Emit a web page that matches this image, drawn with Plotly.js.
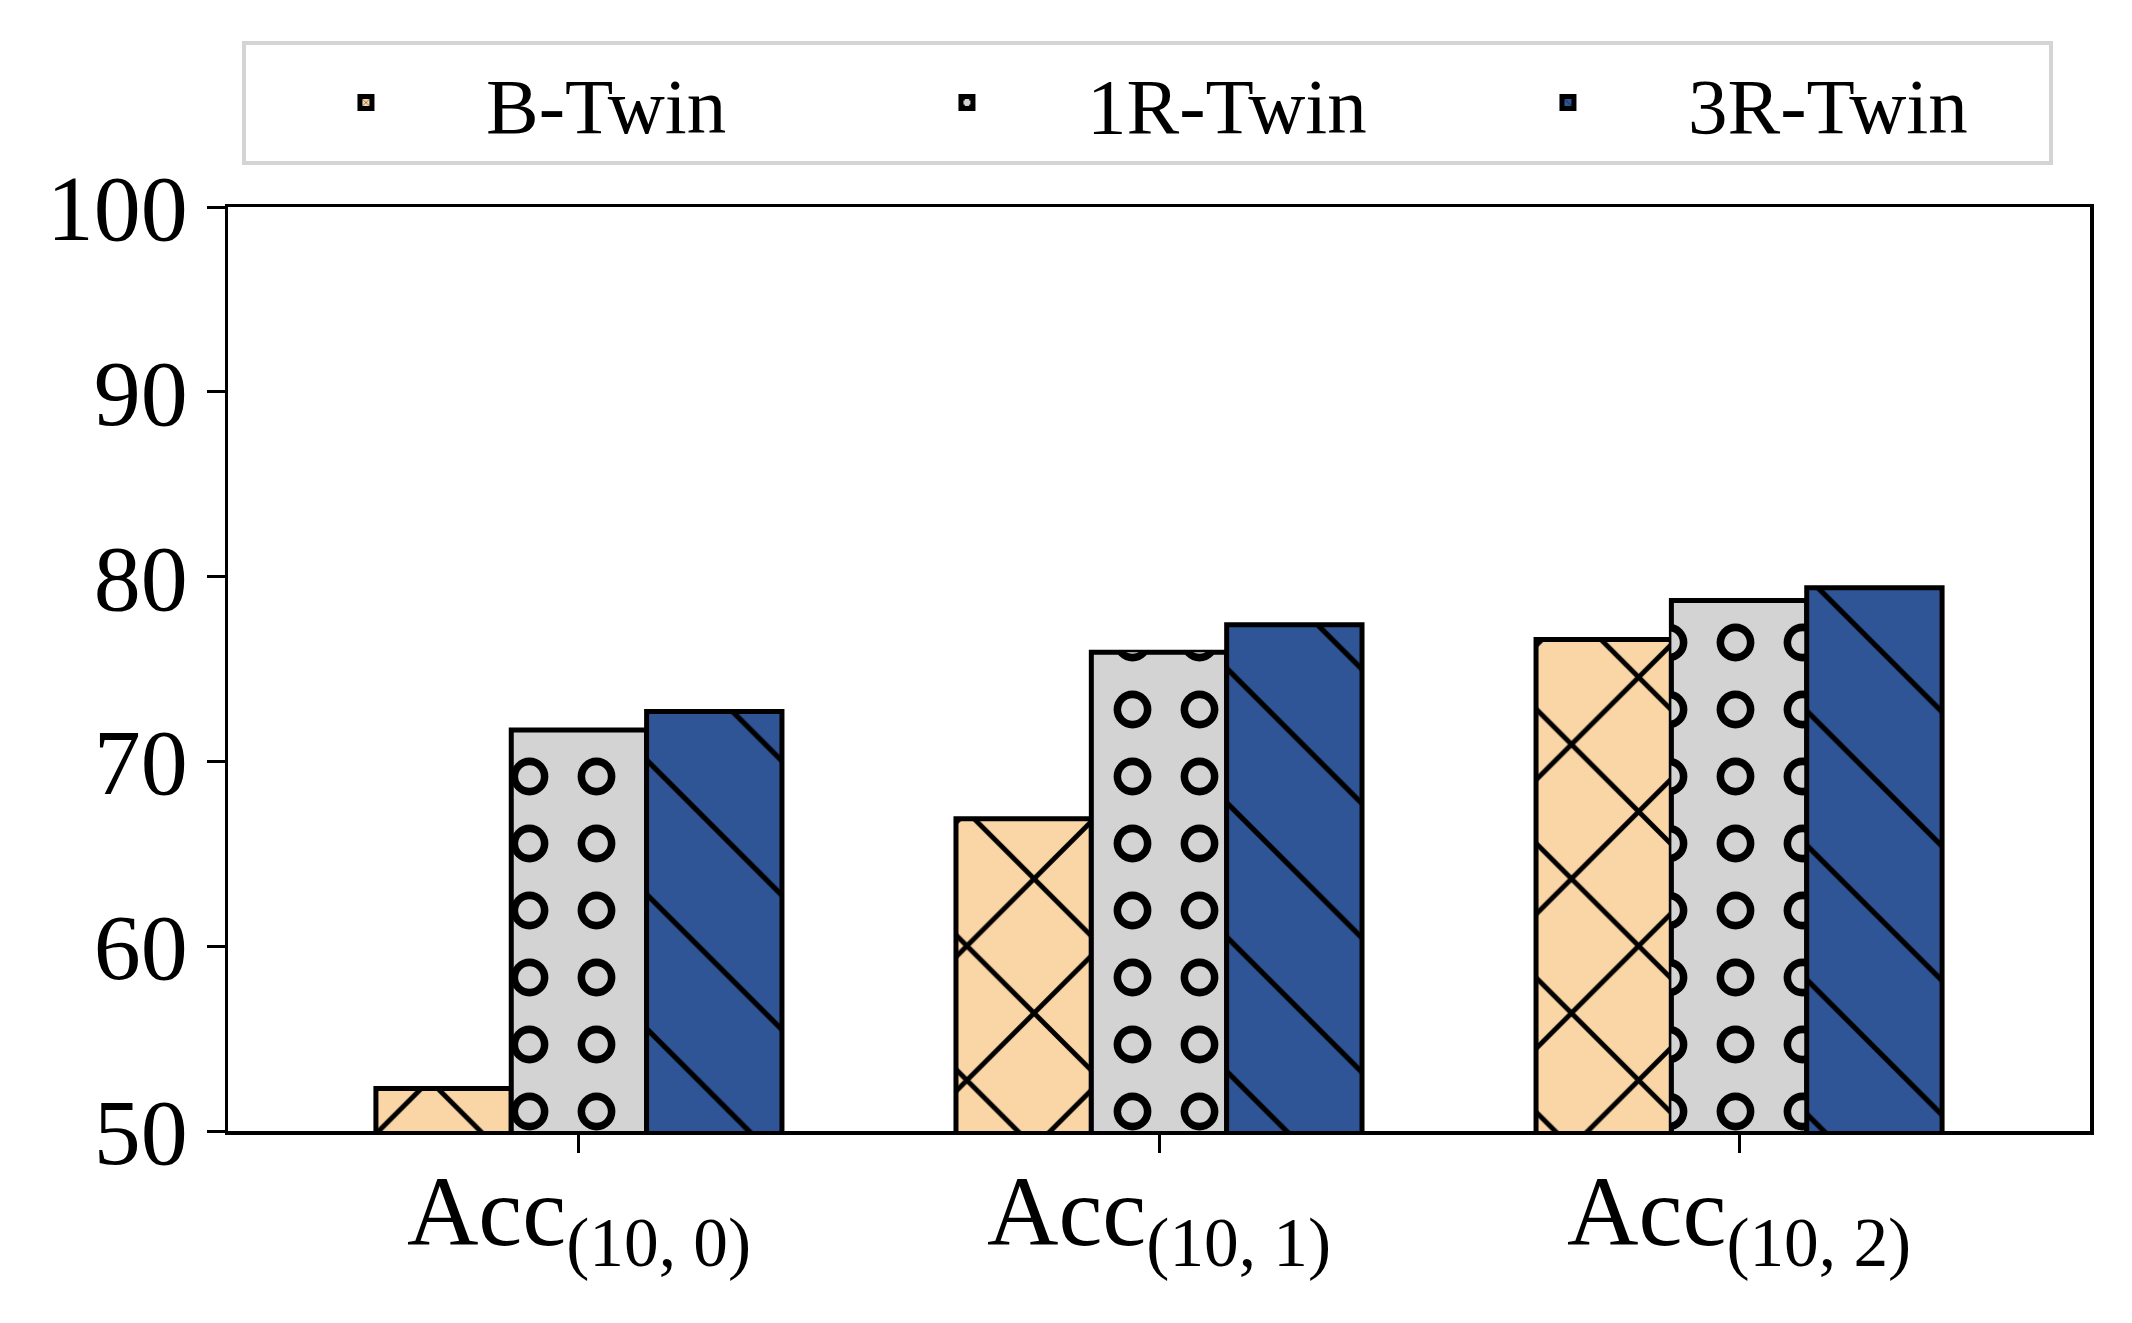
<!DOCTYPE html>
<html>
<head>
<meta charset="utf-8">
<script src="https://cdn.plot.ly/plotly-3.0.1.min.js"></script>
<style>
  html, body { margin: 0; padding: 0; background: #ffffff; }
  #chart { width: 2132px; height: 1323px; }
</style>
</head>
<body>
<div id="chart"></div>
<script>
// values
var categories = ['Acc<sub>(10, 0)</sub>', 'Acc<sub>(10, 1)</sub>', 'Acc<sub>(10, 2)</sub>'];
var bTwin = [52.3, 66.9, 76.6];
var r1Twin = [71.7, 75.9, 78.7];
var r3Twin = [72.7, 77.4, 79.4];
var seriesNames = ['B-Twin', '1R-Twin', '3R-Twin'];
var yTicks = [50, 60, 70, 80, 90, 100];

var serif = '"Liberation Serif", "Times New Roman", Times, serif';
var edge = { color: '#000000', width: 5 };

var b = {
  x: categories,
  y: bTwin,
  name: seriesNames[0],
  type: 'bar',
  offsetgroup: 'b',
  marker: {
    color: '#fad6a7',
    line: edge,
    pattern: { shape: 'x', size: 95, solidity: 0.1, fgcolor: '#000000', bgcolor: '#fad6a7', fgopacity: 1 }
  }
};

var r1 = {
  x: categories,
  y: r1Twin,
  name: seriesNames[1],
  type: 'bar',
  offsetgroup: 'r1',
  marker: {
    color: '#d3d3d3',
    line: edge,
    pattern: { shape: '.', size: 67, solidity: 0.25, fgcolor: '#000000', bgcolor: '#d3d3d3', fgopacity: 1 }
  }
};

// same bars again, only to punch grey centres into the black dots (rings)
var r1Holes = {
  x: categories,
  y: r1Twin,
  name: seriesNames[1],
  type: 'bar',
  offsetgroup: 'r1',
  showlegend: false,
  hoverinfo: 'skip',
  marker: {
    color: 'rgba(0,0,0,0)',
    line: { width: 0 },
    pattern: { shape: '.', size: 67, solidity: 0.09, fgcolor: '#d3d3d3', bgcolor: 'rgba(0,0,0,0)', fgopacity: 1 }
  }
};

var r3 = {
  x: categories,
  y: r3Twin,
  name: seriesNames[2],
  type: 'bar',
  offsetgroup: 'r3',
  marker: {
    color: '#2f5597',
    line: edge,
    pattern: { shape: '\\', size: 95, solidity: 0.055, fgcolor: '#000000', bgcolor: '#2f5597', fgopacity: 1 }
  }
};

var data = [b, r1, r1Holes, r3];

var layout = {
  width: 2132,
  height: 1323,
  margin: { l: 228, r: 42, t: 207, b: 192 },
  paper_bgcolor: '#ffffff',
  plot_bgcolor: '#ffffff',
  font: { family: serif, color: '#000000' },
  barmode: 'group',
  bargap: 0.3,
  bargroupgap: 0,
  showlegend: true,
  legend: {
    orientation: 'h',
    x: 0.0075,
    xanchor: 'left',
    y: 1.18,
    yanchor: 'top',
    font: { family: serif, size: 79, color: '#000000' },
    bgcolor: '#ffffff',
    bordercolor: '#d4d4d4',
    borderwidth: 4,
    itemwidth: 230,
    entrywidth: 356,
    entrywidthmode: 'pixels',
    traceorder: 'normal'
  },
  xaxis: {
    type: 'category',
    range: [-0.605, 2.605],
    showline: true,
    mirror: true,
    linecolor: '#000000',
    linewidth: 3.5,
    ticks: 'outside',
    ticklen: 18,
    tickwidth: 3,
    tickcolor: '#000000',
    ticklabelstandoff: -26,
    tickfont: { family: serif, size: 99, color: '#000000' },
    showgrid: false,
    zeroline: false
  },
  yaxis: {
    range: [50, 100],
    tickvals: yTicks,
    showline: true,
    mirror: true,
    linecolor: '#000000',
    linewidth: 3.5,
    ticks: 'outside',
    ticklen: 18,
    tickwidth: 3,
    tickcolor: '#000000',
    tickfont: { family: serif, size: 94, color: '#000000' },
    showgrid: false,
    zeroline: false
  }
};

Plotly.newPlot('chart', data, layout, { displayModeBar: false, staticPlot: true });
</script>
</body>
</html>
